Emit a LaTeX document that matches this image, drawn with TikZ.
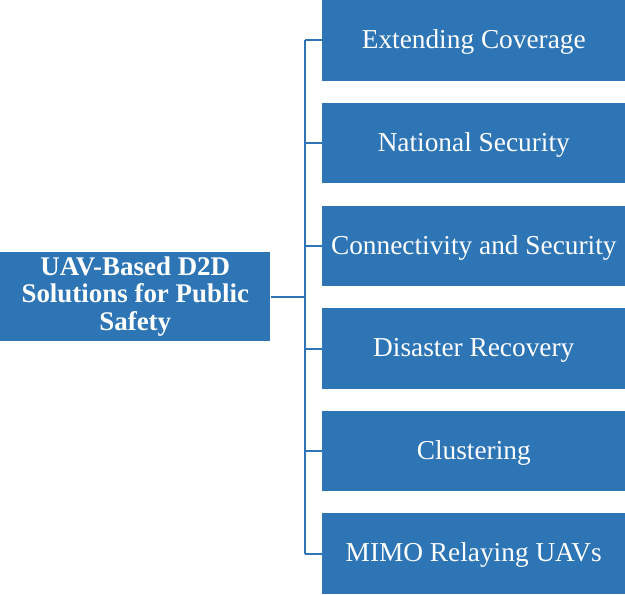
\documentclass[tikz,border=0pt]{standalone}
\usepackage{fontspec}
\setmainfont{Liberation Serif}
\definecolor{boxblue}{HTML}{2E75B6}
\begin{document}
\begin{tikzpicture}[x=0.75pt,y=-0.75pt,
  leaf/.style={fill=boxblue,draw=none,text=white,minimum width=303*0.75pt,minimum height=80.5*0.75pt,inner sep=0pt,anchor=west,text height=15pt,text depth=3pt,font=\fontsize{20.5}{24}\selectfont},
  rootbox/.style={fill=boxblue,draw=none,text=white,minimum width=270*0.75pt,minimum height=89*0.75pt,inner sep=0pt,anchor=west,align=center,font=\bfseries\fontsize{20.2}{20.8}\selectfont},
  conn/.style={draw=boxblue,line width=1.5pt}]
\useasboundingbox (0,0) rectangle (625,594);
\node[rootbox] (root) at (0,296.5) {UAV-Based D2D\\Solutions for Public\\Safety};
\node[leaf] (a) at (322,40.25) {Extending Coverage};
\node[leaf] (b) at (322,143) {National Security};
\node[leaf] (c) at (322,246) {Connectivity and Security};
\node[leaf] (d) at (322,348.5) {Disaster Recovery};
\node[leaf] (e) at (322,451) {Clustering};
\node[leaf] (f) at (322,553.5) {MIMO Relaying UAVs};
\coordinate (top) at (304.5,40.25);
\coordinate (bot) at (304.5,553.5);
\coordinate (mid) at (304.5,296.5);
\draw[conn] (root.east) -- (mid);
\draw[conn] (top) -- (bot);
\foreach \n in {a,b,c,d,e,f} \draw[conn] (\n.west) -- (\n.west -| top);
\end{tikzpicture}
\end{document}
